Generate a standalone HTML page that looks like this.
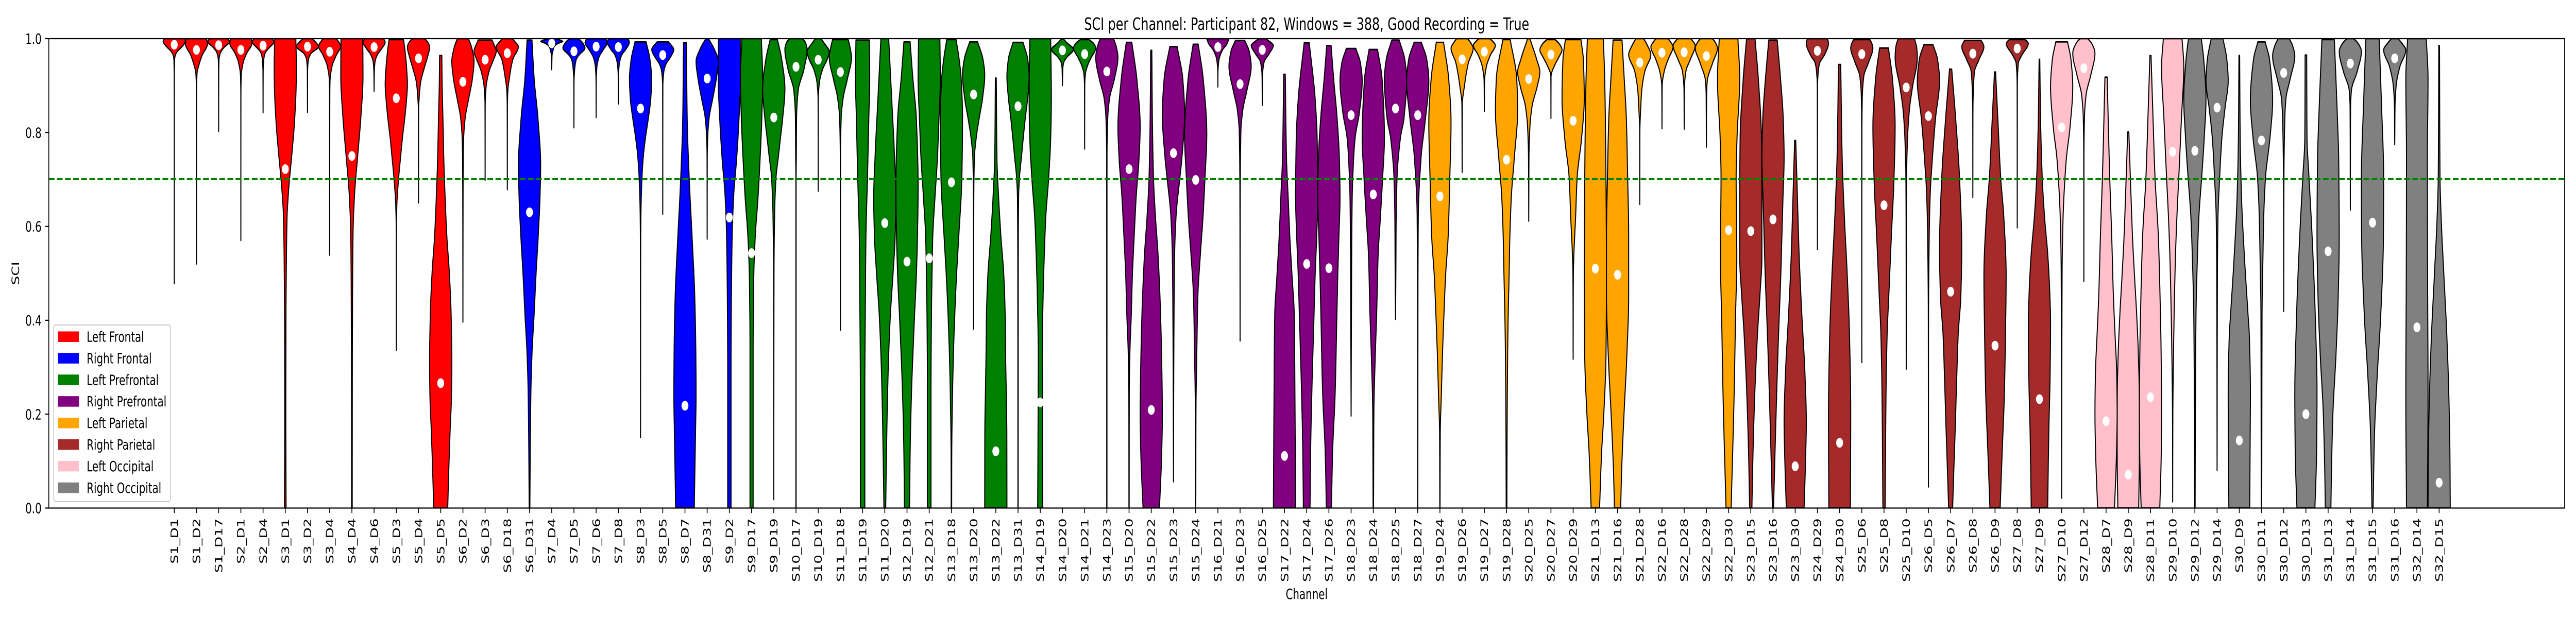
<!DOCTYPE html>
<html lang="en">
<head>
<meta charset="utf-8">
<title>SCI per Channel</title>
<style>
html,body{margin:0;padding:0;background:#fff;width:100%;height:100%;overflow:hidden;}
svg{display:block;width:100vw;height:100vh;}
text{font-family:"DejaVu Sans","Liberation Sans",sans-serif;fill:#000;}
</style>
</head>
<body>
<svg id="chart" xmlns="http://www.w3.org/2000/svg" viewBox="0 0 7000 1200" preserveAspectRatio="none">
<rect x="0" y="0" width="7000" height="1200" fill="#fff"/>
<text x="3550.8" y="58" font-size="33.33" text-anchor="middle">SCI per Channel: Participant 82, Windows = 388, Good Recording = True</text>
<text x="3550.8" y="1163" font-size="27.78" text-anchor="middle">Channel</text>
<text transform="translate(52,530.75) rotate(-90)" font-size="27.78" text-anchor="middle">SCI</text>
<defs><clipPath id="plot-clip"><rect x="132.6" y="75" width="6836.4" height="911.5"/></clipPath></defs>
<g id="violins" clip-path="url(#plot-clip)"></g>
<g id="threshold" clip-path="url(#plot-clip)"></g>
<g id="dots" clip-path="url(#plot-clip)"></g>
<g id="axes"></g>
<g id="legend"></g>
</svg>
<script>
const channels = ["S1_D1","S1_D2","S1_D17","S2_D1","S2_D4","S3_D1","S3_D2","S3_D4","S4_D4","S4_D6","S5_D3","S5_D4","S5_D5","S6_D2","S6_D3","S6_D18","S6_D31","S7_D4","S7_D5","S7_D6","S7_D8","S8_D3","S8_D5","S8_D7","S8_D31","S9_D2","S9_D17","S9_D19","S10_D17","S10_D19","S11_D18","S11_D19","S11_D20","S12_D19","S12_D21","S13_D18","S13_D20","S13_D22","S13_D31","S14_D19","S14_D20","S14_D21","S14_D23","S15_D20","S15_D22","S15_D23","S15_D24","S16_D21","S16_D23","S16_D25","S17_D22","S17_D24","S17_D26","S18_D23","S18_D24","S18_D25","S18_D27","S19_D24","S19_D26","S19_D27","S19_D28","S20_D25","S20_D27","S20_D29","S21_D13","S21_D16","S21_D28","S22_D16","S22_D28","S22_D29","S22_D30","S23_D15","S23_D16","S23_D30","S24_D29","S24_D30","S25_D6","S25_D8","S25_D10","S26_D5","S26_D7","S26_D8","S26_D9","S27_D8","S27_D9","S27_D10","S27_D12","S28_D7","S28_D9","S28_D11","S29_D10","S29_D12","S29_D14","S30_D9","S30_D11","S30_D12","S30_D13","S31_D13","S31_D14","S31_D15","S31_D16","S32_D14","S32_D15"];
const channelRegions = [0,0,0,0,0,0,0,0,0,0,0,0,0,0,0,0,1,1,1,1,1,1,1,1,1,1,2,2,2,2,2,2,2,2,2,2,2,2,2,2,2,2,3,3,3,3,3,3,3,3,3,3,3,3,3,3,3,4,4,4,4,4,4,4,4,4,4,4,4,4,4,5,5,5,5,5,5,5,5,5,5,5,5,5,5,6,6,6,6,6,6,7,7,7,7,7,7,7,7,7,7,7,7];
const regionNames = ["Left Frontal","Right Frontal","Left Prefrontal","Right Prefrontal","Left Parietal","Right Parietal","Left Occipital","Right Occipital"];
const regionColors = ["#ff0000","#0000ff","#008000","#800080","#ffa500","#a52a2a","#ffc0cb","#808080"];
const yTicks = [0,0.2,0.4,0.6,0.8,1.0];
const yTickLabels = ["0.0","0.2","0.4","0.6","0.8","1.0"];
const thresholdValue = [0.7];
const dotValues = [.987,.976,.986,.976,.985,.722,.983,.972,.750,.982,.873,.958,.266,.908,.955,.969,.630,.990,.973,.983,.982,.851,.965,.218,.915,.619,.543,.832,.940,.955,.929,null,.607,.525,.532,.694,.881,.121,.856,.225,.975,.967,.930,.722,.209,.756,.699,.982,.903,.976,.111,.520,.511,.837,.668,.851,.837,.664,.956,.972,.742,.914,.966,.825,.510,.497,.949,.970,.971,.963,.592,.590,.615,.089,.974,.139,.967,.645,.896,.835,.461,.968,.346,.979,.232,.811,.937,.185,.071,.236,.759,.761,.853,.144,.783,.927,.200,.547,.947,.608,.958,.385,.054];
const violinDensity = [
[[.478,0],[.9,.005],[.955,.03],[.965,.1],[.973,.28],[.983,.7],[.994,1],[1,.9]],
[[.52,0],[.89,.005],[.925,.05],[.947,.26],[.965,.52],[.989,1],[1,.9]],
[[.802,0],[.93,.01],[.955,.03],[.97,.16],[.983,.55],[.993,1],[1,.8]],
[[.57,0],[.88,.005],[.92,.03],[.95,.22],[.97,.55],[.99,1],[1,.92]],
[[.842,0],[.93,.01],[.955,.06],[.97,.2],[.983,.65],[.993,1],[1,.8]],
[[0,.07],[.2,.05],[.4,.06],[.5,.09],[.62,.16],[.66,.25],[.7,.38],[.75,.58],[.83,.85],[.9,.98],[.94,1],[1,.95]],
[[.843,0],[.93,.01],[.955,.08],[.968,.3],[.983,1],[.992,.75],[1,.4]],
[[.539,0],[.87,.01],[.91,.03],[.94,.2],[.965,.6],[.984,1],[.995,.75],[1,.6]],
[[0,.03],[.3,.04],[.4,.05],[.58,.1],[.66,.22],[.75,.52],[.83,.8],[.92,1],[1,.98]],
[[.888,0],[.93,.02],[.95,.08],[.965,.28],[.98,.72],[.992,1],[1,.85]],
[[.336,0],[.6,.01],[.645,.05],[.7,.2],[.746,.38],[.79,.56],[.83,.76],[.87,.92],[.902,1],[.94,.92],[.975,.78],[.998,.65]],
[[.65,0],[.85,.01],[.87,.05],[.905,.18],[.94,.55],[.96,.8],[.982,1],[.992,.85],[1,.55]],
[[0,.63],[.075,.72],[.16,.84],[.24,.97],[.31,1],[.41,.94],[.5,.78],[.58,.55],[.66,.4],[.704,.33],[.75,.27],[.83,.2],[.9,.13],[.964,.1]],
[[.396,0],[.6,.01],[.75,.03],[.79,.07],[.83,.2],[.872,.52],[.914,.85],[.952,1],[.98,.8],[1,.5]],
[[.698,0],[.86,.01],[.895,.08],[.93,.35],[.955,.75],[.973,1],[.99,.75],[.997,.62]],
[[.678,0],[.86,.01],[.89,.05],[.915,.18],[.956,.5],[.983,1],[.993,.7],[1,.45]],
[[0,.03],[.075,.05],[.243,.12],[.327,.22],[.411,.41],[.495,.58],[.578,.78],[.662,.94],[.73,1],[.83,.76],[.914,.42],[.997,.22]],
[[.934,0],[.965,.03],[.975,.12],[.982,.2],[.99,.55],[.994,1],[.998,.6],[1,.35]],
[[.81,0],[.91,.01],[.935,.07],[.955,.2],[.965,.45],[.98,1],[.992,.75],[1,.4]],
[[.832,0],[.91,.01],[.94,.07],[.96,.25],[.975,.6],[.992,1],[1,.85]],
[[.861,0],[.92,.01],[.945,.08],[.965,.3],[.978,.7],[.993,1],[1,.85]],
[[.15,0],[.55,.01],[.62,.03],[.704,.13],[.746,.24],[.788,.44],[.83,.7],[.872,.92],[.914,1],[.955,.85],[.993,.5]],
[[.626,0],[.9,.01],[.93,.1],[.945,.28],[.96,.68],[.977,1],[.985,.8],[.993,.5]],
[[0,.84],[.075,.89],[.159,.95],[.243,1],[.327,.98],[.452,.88],[.578,.64],[.704,.38],[.83,.2],[.991,.13]],
[[.573,0],[.75,.01],[.79,.05],[.83,.17],[.872,.5],[.914,.82],[.952,1],[.977,.65],[1,.12]],
[[0,.15],[.3,.15],[.41,.17],[.578,.25],[.662,.38],[.746,.66],[.83,.87],[.914,1],[1,.98]],
[[0,.14],[.33,.14],[.495,.2],[.578,.33],[.662,.58],[.746,.77],[.83,.92],[.914,1],[1,.88]],
[[.018,0],[.5,.02],[.62,.07],[.704,.2],[.746,.4],[.788,.6],[.83,.8],[.893,1],[.955,.72],[.998,.33]],
[[0,.01],[.7,.01],[.75,.03],[.83,.05],[.89,.2],[.935,.72],[.977,1],[.992,.85],[1,.6]],
[[.675,0],[.87,.01],[.905,.1],[.935,.4],[.955,.8],[.972,1],[.99,.55],[1,.25]],
[[.379,0],[.75,.01],[.83,.07],[.872,.24],[.914,.63],[.96,1],[.98,.88],[.998,.7]],
[[0,.2],[.243,.2],[.411,.24],[.578,.3],[.704,.44],[.83,.56],[.914,.64],[.997,.6]],
[[0,.08],[.117,.15],[.243,.25],[.327,.35],[.411,.5],[.495,.73],[.578,.93],[.662,1],[.746,.88],[.872,.62],[1,.35]],
[[0,.23],[.117,.28],[.243,.4],[.327,.53],[.411,.68],[.495,.84],[.578,.94],[.68,1],[.83,.84],[.914,.53],[.993,.28]],
[[0,.16],[.243,.16],[.411,.2],[.495,.25],[.578,.32],[.662,.52],[.746,.74],[.83,.88],[.914,1],[1,.96]],
[[0,.02],[.117,.03],[.243,.1],[.327,.18],[.411,.3],[.495,.46],[.578,.66],[.704,.94],[.83,1],[.914,.88],[.955,.7],[.998,.42]],
[[.381,0],[.66,.015],[.746,.07],[.788,.23],[.83,.5],[.872,.8],[.923,1],[.955,.85],[.993,.36]],
[[0,1],[.16,.99],[.243,.94],[.327,.88],[.411,.84],[.495,.72],[.578,.46],[.662,.25],[.746,.1],[.916,.04]],
[[0,.01],[.5,.02],[.66,.05],[.704,.13],[.746,.3],[.83,.65],[.872,.86],[.919,1],[.955,.88],[.992,.45]],
[[0,.23],[.15,.2],[.327,.18],[.452,.26],[.536,.36],[.62,.5],[.704,.76],[.788,.94],[.872,1],[1,.94]],
[[.9,0],[.935,.03],[.948,.1],[.96,.38],[.977,1],[.99,.45],[1,.05]],
[[.765,0],[.9,.01],[.925,.07],[.945,.3],[.96,.6],[.98,1],[.99,.8],[.998,.38]],
[[0,.01],[.75,.015],[.83,.08],[.872,.24],[.914,.68],[.96,1],[.98,.88],[1,.6]],
[[0,.01],[.243,.02],[.327,.07],[.411,.2],[.495,.3],[.578,.46],[.662,.64],[.746,.9],[.813,1],[.914,.7],[.992,.25]],
[[0,.74],[.117,.94],[.2,1],[.285,.96],[.411,.84],[.536,.62],[.62,.38],[.704,.2],[.83,.1],[.975,.05]],
[[.056,0],[.25,.02],[.411,.05],[.536,.1],[.62,.23],[.704,.58],[.746,.76],[.839,1],[.914,.84],[.983,.33]],
[[0,.01],[.2,.025],[.327,.1],[.452,.2],[.536,.41],[.62,.66],[.704,.84],[.797,1],[.914,.68],[.988,.23]],
[[.897,0],[.93,.01],[.955,.1],[.975,.4],[.99,.85],[1,1]],
[[.356,0],[.66,.015],[.8,.07],[.847,.24],[.89,.62],[.941,1],[.973,.82],[.996,.42]],
[[.858,0],[.92,.02],[.95,.16],[.968,.62],[.986,1],[.993,.7],[1,.3]],
[[0,1],[.243,.94],[.411,.88],[.495,.68],[.578,.48],[.662,.33],[.746,.18],[.924,.07]],
[[0,.3],[.117,.35],[.243,.46],[.411,.66],[.495,.76],[.578,.9],[.662,1],[.788,.94],[.872,.76],[.991,.23]],
[[0,.23],[.117,.33],[.243,.56],[.411,.72],[.495,.8],[.578,.9],[.662,1],[.746,.94],[.83,.74],[.914,.43],[.985,.2]],
[[.196,0],[.411,.03],[.536,.05],[.662,.1],[.746,.23],[.788,.36],[.845,.76],[.91,1],[.948,.84],[.979,.43]],
[[0,.02],[.2,.05],[.327,.18],[.411,.3],[.536,.43],[.62,.64],[.704,.84],[.788,1],[.914,.79],[.977,.38]],
[[.402,0],[.495,.03],[.62,.06],[.704,.14],[.788,.44],[.83,.76],[.914,1],[.955,.84],[.997,.33]],
[[0,.01],[.45,.02],[.62,.05],[.746,.3],[.83,.7],[.91,1],[.955,.82],[.992,.33]],
[[0,.01],[.159,.03],[.243,.13],[.327,.23],[.411,.36],[.495,.51],[.578,.74],[.704,.89],[.822,1],[.914,.79],[.992,.33]],
[[.715,0],[.86,.02],[.898,.2],[.948,.56],[.98,1],[.99,.8],[1,.5]],
[[.845,0],[.91,.02],[.94,.18],[.965,.55],[.986,1],[.993,.8],[1,.5]],
[[0,.03],[.159,.05],[.327,.1],[.411,.15],[.495,.23],[.578,.3],[.662,.43],[.746,.7],[.847,1],[.914,.92],[.998,.33]],
[[.611,0],[.746,.02],[.81,.1],[.856,.3],[.898,.76],[.929,1],[.956,.71],[1,.1]],
[[.83,0],[.92,.01],[.944,.35],[.96,.7],[.976,1],[.99,.72],[.998,.36]],
[[.317,0],[.5,.02],[.536,.06],[.62,.22],[.704,.36],[.788,.76],[.872,1],[.955,.92],[.998,.7]],
[[0,.38],[.117,.56],[.2,.76],[.327,.96],[.495,1],[.746,.94],[.914,.84],[1,.72]],
[[0,.28],[.075,.36],[.2,.58],[.327,.84],[.452,1],[.578,1],[.704,.91],[.83,.79],[.914,.6],[.997,.4]],
[[.647,0],[.8,.01],[.86,.1],[.89,.18],[.931,.46],[.966,1],[.985,.7],[1,.35]],
[[.808,0],[.9,.02],[.93,.2],[.956,.56],[.983,1],[.992,.8],[1,.55]],
[[.807,0],[.89,.015],[.93,.15],[.956,.56],[.986,1],[.994,.8],[1,.6]],
[[.769,0],[.88,.02],[.91,.08],[.948,.56],[.98,1],[.99,.85],[1,.55]],
[[0,.23],[.243,.5],[.411,.63],[.536,.74],[.704,.68],[.788,.76],[.914,1],[1,.84]],
[[0,.1],[.117,.2],[.243,.36],[.369,.6],[.452,.82],[.536,1],[.662,1],[.788,.96],[.914,.68],[1,.38]],
[[0,.05],[.117,.18],[.243,.33],[.369,.5],[.495,.7],[.578,.8],[.662,.9],[.746,1],[.83,.92],[.914,.68],[.997,.38]],
[[0,.8],[.117,.95],[.184,1],[.285,.88],[.411,.6],[.536,.36],[.662,.2],[.783,.05]],
[[.551,0],[.9,.01],[.93,.08],[.948,.2],[.965,.63],[.99,1],[1,.9]],
[[0,.97],[.201,1],[.369,.89],[.495,.69],[.62,.43],[.746,.23],[.945,.1]],
[[.31,0],[.8,.01],[.872,.04],[.92,.18],[.95,.62],[.98,1],[.99,.9],[.998,.73]],
[[0,.1],[.243,.18],[.369,.28],[.452,.43],[.578,.66],[.704,.9],[.813,1],[.914,.76],[.98,.4]],
[[.296,0],[.6,.01],[.704,.03],[.788,.12],[.847,.28],[.896,.56],[.96,1],[.98,.95],[1,.74]],
[[.045,0],[.411,.01],[.578,.07],[.662,.15],[.746,.36],[.83,.64],[.91,1],[.956,.82],[.987,.41]],
[[0,.18],[.075,.28],[.159,.4],[.285,.56],[.369,.68],[.452,.92],[.553,1],[.704,.8],[.83,.45],[.935,.1]],
[[.662,0],[.85,.01],[.89,.05],[.93,.15],[.955,.55],[.983,1],[.996,.75]],
[[0,.46],[.117,.64],[.243,.84],[.369,.94],[.495,1],[.62,.79],[.704,.51],[.83,.25],[.929,.05]],
[[.597,0],[.9,.01],[.948,.1],[.965,.42],[.99,1],[.998,.7]],
[[0,.74],[.159,.84],[.285,.96],[.394,1],[.452,.94],[.536,.76],[.62,.46],[.704,.25],[.83,.1],[.956,.03]],
[[.021,0],[.5,.04],[.62,.13],[.704,.3],[.746,.43],[.813,.76],[.898,1],[.955,.84],[.993,.53]],
[[.483,0],[.75,.01],[.83,.05],[.88,.2],[.923,.63],[.969,1],[.99,.7],[1,.35]],
[[0,.76],[.117,.94],[.2,1],[.285,.96],[.369,.81],[.452,.66],[.578,.51],[.704,.33],[.918,.1]],
[[0,.94],[.117,1],[.243,.99],[.327,.91],[.411,.76],[.495,.56],[.578,.38],[.662,.25],[.801,.05]],
[[0,.84],[.117,.97],[.209,1],[.327,.96],[.452,.86],[.578,.71],[.704,.41],[.83,.23],[.964,.05]],
[[.013,0],[.2,.015],[.285,.05],[.411,.13],[.536,.25],[.62,.38],[.704,.55],[.83,.79],[.94,1],[1,.84]],
[[0,.02],[.243,.05],[.411,.1],[.536,.23],[.62,.36],[.704,.61],[.788,.84],[.872,1],[.955,.8],[1,.58]],
[[.08,0],[.5,.03],[.62,.08],[.704,.23],[.788,.43],[.853,.72],[.91,1],[.955,.88],[1,.53]],
[[0,.94],[.117,.97],[.243,1],[.369,.9],[.411,.79],[.536,.46],[.662,.2],[.788,.08],[.964,.03]],
[[0,.02],[.159,.03],[.411,.05],[.536,.13],[.62,.2],[.704,.36],[.788,.76],[.868,1],[.956,.72],[.993,.33]],
[[.419,0],[.7,.02],[.83,.1],[.872,.2],[.914,.58],[.963,1],[.985,.8],[1,.5]],
[[0,.81],[.117,.96],[.243,1],[.411,.84],[.578,.56],[.704,.28],[.788,.1],[.965,.07]],
[[0,.25],[.075,.3],[.2,.43],[.327,.71],[.452,.91],[.578,1],[.746,.95],[.83,.84],[.998,.56]],
[[.635,0],[.85,.02],[.89,.1],[.93,.62],[.973,1],[.99,.7],[1,.3]],
[[0,.05],[.159,.18],[.285,.43],[.411,.74],[.578,.98],[.7,1],[.872,.79],[1,.6]],
[[.774,0],[.86,.03],[.9,.13],[.94,.46],[.976,1],[.99,.65],[1,.3]],
[[0,.94],[.243,1],[.495,.96],[.746,.94],[.914,1],[1,.84]],
[[0,1],[.117,.97],[.243,.87],[.369,.69],[.495,.43],[.62,.18],[.704,.08],[.985,.03]]
];

const NS = "http://www.w3.org/2000/svg";
const PLOT = {left:132.6, right:6969, top:75, bottom:986.5};
const X_DOMAIN = [-5.65, 107.65];
const Y_DOMAIN = [0, 1];
function xScale(i){ return PLOT.left + (i - X_DOMAIN[0]) / (X_DOMAIN[1] - X_DOMAIN[0]) * (PLOT.right - PLOT.left); }
function yScale(v){ return PLOT.bottom - (v - Y_DOMAIN[0]) / (Y_DOMAIN[1] - Y_DOMAIN[0]) * (PLOT.bottom - PLOT.top); }
const HALF_WIDTH = (xScale(1) - xScale(0)) * 0.5;
function make(tag, attrs, parent){
  const el = document.createElementNS(NS, tag);
  for (const k in attrs) el.setAttribute(k, attrs[k]);
  parent.appendChild(el);
  return el;
}
function slug(s){ return s.toLowerCase().replace(/[^a-z0-9]+/g, '-'); }

/* Monotone cubic sampling of a density profile, for a smooth outline */
function sampleProfile(knots){
  const n = knots.length, d = [], m = new Array(n).fill(0), out = [];
  for (let i = 0; i < n - 1; i++) d.push((knots[i+1][1] - knots[i][1]) / (knots[i+1][0] - knots[i][0]));
  m[0] = d[0]; m[n-1] = d[n-2];
  for (let i = 1; i < n - 1; i++) {
    if (d[i-1] * d[i] <= 0) m[i] = 0;
    else {
      const h0 = knots[i][0] - knots[i-1][0], h1 = knots[i+1][0] - knots[i][0];
      const w1 = 2 * h1 + h0, w2 = h1 + 2 * h0;
      m[i] = (w1 + w2) / (w1 / d[i-1] + w2 / d[i]);
    }
  }
  for (let i = 0; i < n - 1; i++) {
    const x0 = knots[i][0], x1 = knots[i+1][0], h = x1 - x0;
    const steps = Math.max(2, Math.ceil(Math.abs(yScale(x0) - yScale(x1)) / 4));
    for (let s = 0; s < steps; s++) {
      const t = s / steps, t2 = t * t, t3 = t2 * t;
      const v = (2*t3 - 3*t2 + 1) * knots[i][1] + (t3 - 2*t2 + t) * h * m[i] + (-2*t3 + 3*t2) * knots[i+1][1] + (t3 - t2) * h * m[i+1];
      out.push([x0 + t * h, Math.max(0, v)]);
    }
  }
  out.push(knots[n-1].slice());
  return out;
}

/* Violins */
const violinLayer = document.getElementById('violins');
channels.forEach(function(name, i){
  const pts = sampleProfile(violinDensity[i]);
  const cx = xScale(i);
  const right = pts.map(function(p){ return (cx + p[1] * HALF_WIDTH).toFixed(2) + ' ' + yScale(p[0]).toFixed(2); });
  const left = pts.slice().reverse().map(function(p){ return (cx - p[1] * HALF_WIDTH).toFixed(2) + ' ' + yScale(p[0]).toFixed(2); });
  const el = make('path', {d: 'M' + right.concat(left).join('L') + 'Z', fill: regionColors[channelRegions[i]], stroke: '#000', 'stroke-width': 2.78, 'stroke-linejoin': 'round'}, violinLayer);
  
  
});

/* Threshold line */
const thresholdLine = make('line', {x1: PLOT.left, x2: PLOT.right, y1: yScale(thresholdValue[0]) - 0.6, y2: yScale(thresholdValue[0]) - 0.6, stroke: '#008000', 'stroke-width': 4.17, 'stroke-dasharray': '15.4 6.67'}, document.getElementById('threshold'));



/* Dots */
const dotLayer = document.getElementById('dots');
channels.forEach(function(name, i){
  if (dotValues[i] === null) return;
  const dot = make('circle', {cx: xScale(i), cy: yScale(dotValues[i]), r: 9.4, fill: '#fff'}, dotLayer);
  
  
});

/* Axes */
const axesLayer = document.getElementById('axes');
const frame = make('rect', {x: PLOT.left, y: PLOT.top, width: PLOT.right - PLOT.left, height: PLOT.bottom - PLOT.top, fill: 'none', stroke: '#000', 'stroke-width': 2.22}, axesLayer);


yTicks.forEach(function(v, i){
  const y = yScale(v);
  const tick = make('line', {x1: PLOT.left - 9.7, x2: PLOT.left, y1: y, y2: y, stroke: '#000', 'stroke-width': 2.22}, axesLayer);
  
  
  const label = make('text', {x: 113, y: y + 10.1, 'font-size': 27.78, 'text-anchor': 'end'}, axesLayer);
  label.textContent = yTickLabels[i];
  
  
});
channels.forEach(function(name, i){
  const x = xScale(i);
  const tick = make('line', {x1: x, x2: x, y1: PLOT.bottom, y2: PLOT.bottom + 9.7, stroke: '#000', 'stroke-width': 2.22}, axesLayer);
  
  
  const label = make('text', {transform: 'translate(' + (x + 10) + ',1006.5) rotate(-90)', 'font-size': 27.78, 'text-anchor': 'end'}, axesLayer);
  label.textContent = name;
  
  
});

/* Legend */
const legendLayer = document.getElementById('legend');
const legendFrame = make('rect', {x: 146, y: 631, width: 317.5, height: 343, rx: 5.5, ry: 5.5, fill: '#fff', 'fill-opacity': 0.8, stroke: '#cccccc', 'stroke-width': 2.22}, legendLayer);


regionNames.forEach(function(name, k){
  const swatch = make('rect', {x: 157.5, y: 643.5 + 41.9 * k, width: 57, height: 20.5, fill: regionColors[k]}, legendLayer);
  
  
  const label = make('text', {x: 235.5, y: 663.5 + 41.9 * k, 'font-size': 27.78}, legendLayer);
  label.textContent = name;
  
  
});
</script>
</body>
</html>
